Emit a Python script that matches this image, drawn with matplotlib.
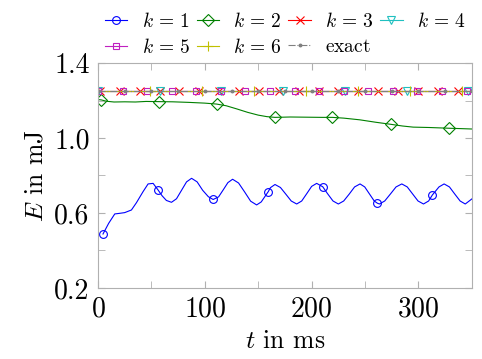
import numpy as np
import matplotlib
matplotlib.use('Agg')
import matplotlib.pyplot as plt
from matplotlib.ticker import MultipleLocator, FixedLocator, FormatStrFormatter

plt.rcParams['font.family'] = 'cmr10'
plt.rcParams['mathtext.fontset'] = 'cm'
plt.rcParams['axes.formatter.use_mathtext'] = True

# k = 1 (oscillating)
t1 = [4.7, 10, 15.7, 20, 25, 31.3, 36, 42.2, 46.9, 51.6, 56.2, 60, 64, 68.8,
      73.5, 78.2, 82.9, 87.6, 92.8, 98, 103.3, 107.8, 112.9, 117.3, 121.6, 126,
      131.6, 137.3, 142.9, 148.5, 152.8, 159.4, 161.4, 165.7, 170.8, 175.9, 180.9, 186,
      190.7, 195.4, 200, 204.7, 210.4, 214.9, 220, 225, 230, 235.2, 240.2, 245.3,
      249.7, 254.2, 258.6, 261.6, 263.5, 268.4, 273.7, 279, 284.4, 289.5, 294.6, 299.6, 304.7,
      309.5, 313, 319.2, 324, 329, 334, 339, 343.8, 350]
E1 = [0.488, 0.545, 0.595, 0.598, 0.602, 0.616, 0.655, 0.714, 0.755, 0.758, 0.723, 0.692, 0.667, 0.657,
      0.676, 0.721, 0.766, 0.785, 0.766, 0.721, 0.687, 0.672, 0.686, 0.724, 0.762, 0.780,
      0.760, 0.712, 0.663, 0.643, 0.659, 0.714, 0.735, 0.752, 0.736, 0.700, 0.664, 0.648,
      0.664, 0.703, 0.742, 0.758, 0.740, 0.703, 0.664, 0.648, 0.664, 0.701, 0.739, 0.755,
      0.739, 0.701, 0.664, 0.652, 0.648, 0.664, 0.701, 0.739, 0.755, 0.739, 0.701, 0.664, 0.648,
      0.664, 0.696, 0.739, 0.755, 0.739, 0.701, 0.664, 0.648, 0.675]
t1_marks = [4.7, 56.2, 107.8, 159.4, 210.4, 261.6, 313]

# k = 2 (slowly decaying)
t2 = [0, 3.2, 8, 15, 25, 35, 45, 56.9, 70, 85, 100, 111, 120, 130, 140, 150, 158, 165.7,
      180, 195, 210, 219.4, 230, 245, 260, 274.1, 285, 295, 310, 329, 340, 350]
E2 = [1.205, 1.203, 1.196, 1.192, 1.193, 1.192, 1.195, 1.194, 1.193, 1.190, 1.186, 1.181, 1.172,
      1.155, 1.137, 1.122, 1.114, 1.110, 1.112, 1.111, 1.110, 1.110, 1.106, 1.097, 1.084, 1.073,
      1.064, 1.058, 1.056, 1.052, 1.050, 1.048]
t2_marks = [3.2, 56.9, 111, 165.7, 219.4, 274.1, 329]

# k = 3..6 and exact: flat
E_flat = 1.253
t3 = [0, 1.9, 20.5, 39.1, 57.7, 76.3, 94.9, 113.5, 132.1, 150.7, 169.3, 187.9, 206.5, 225.1,
      243.7, 262.3, 280.9, 299.5, 318.1, 336.7, 350]
t4 = [0, 57.8, 115.6, 173.4, 231.2, 289, 346.8, 350]
t5 = [0, 23, 46, 69, 92, 115, 138, 161, 184, 207, 230, 253, 276, 299, 322, 345, 350]
t6 = [0, 48.7, 97.4, 146.1, 194.8, 243.5, 292.2, 340.9, 350]
t_ex = [0, 25, 50, 75, 100, 125, 150, 175, 200, 225, 250, 275, 300, 325, 350]

y_ticks = [0.2, 0.6, 1.0, 1.4]

W, H = 482, 359
fig = plt.figure(figsize=(W / 100, H / 100), dpi=100)
ax = fig.add_axes([0.2033, 0.1978, 0.7757, 0.6267])

ms = 5.6
lw = 0.8
h1, = ax.plot(t1, E1, color='#0000ff', lw=lw, marker='o', mfc='none', ms=ms, mew=lw,
              markevery=list(np.flatnonzero(np.isin(t1, t1_marks))), label=r'$k\,=\,1$')
h2, = ax.plot(t2, E2, color='#008000', lw=lw, marker='D', mfc='none', ms=6.3, mew=lw,
              markevery=list(np.flatnonzero(np.isin(t2, t2_marks))), label=r'$k\,=\,2$')
h3, = ax.plot(t3, [E_flat] * len(t3), color='#ff0000', lw=lw, marker='x', ms=ms, mew=lw,
              markevery=list(range(1, len(t3) - 1)), label=r'$k\,=\,3$')
h4, = ax.plot(t4, [E_flat] * len(t4), color='#20c0c0', lw=lw, marker='v', mfc='none', ms=ms, mew=lw,
              markevery=list(range(0, len(t4) - 1)), label=r'$k\,=\,4$')
h5, = ax.plot(t5, [E_flat] * len(t5), color='#c020c0', lw=lw, marker='s', mfc='none', ms=5.0, mew=lw,
              markevery=list(range(0, len(t5) - 1)), label=r'$k\,=\,5$')
h6, = ax.plot(t6, [E_flat] * len(t6), color='#c0c000', lw=lw, marker='+', ms=ms * 1.2, mew=lw,
              markevery=list(range(0, len(t6) - 1)), label=r'$k\,=\,6$')
h7, = ax.plot(t_ex, [E_flat] * len(t_ex), color='#808080', lw=lw, ls='-.', marker='o', ms=1.8,
              label=r'$\mathrm{exact}$')

ax.set_xlim(0, 350)
ax.set_ylim(0.2, 1.4)
ax.xaxis.set_major_locator(MultipleLocator(100))
ax.xaxis.set_minor_locator(MultipleLocator(50))
ax.yaxis.set_major_locator(FixedLocator(y_ticks))
ax.yaxis.set_minor_locator(MultipleLocator(0.2))
ax.yaxis.set_major_formatter(FormatStrFormatter('%.1f'))
ax.tick_params(which='both', direction='in', top=True, right=True, color='#b0b0b0',
               labelsize=20, pad=6)
ax.tick_params(which='both', length=5)
for s in ax.spines.values():
    s.set_color('#b0b0b0')
    s.set_linewidth(0.8)

ax.set_xlabel(r'$t$ in ms', fontsize=18.5, labelpad=5)
ax.set_ylabel(r'$E$ in mJ', fontsize=18.5, labelpad=5)

# row-wise order for a 4-column legend
handles = [h1, h5, h2, h6, h3, h7, h4]
leg_fs = 14
# target legend box in pixels (from the reference): left 105, right 466, rows centred at 23 and 46
x_left, x_right, y_mid = 105, 466, H - 34.5


def make_legend(cs, x0):
    return fig.legend(handles=handles, loc='center left',
                      bbox_to_anchor=(x0 / W, y_mid / H), bbox_transform=fig.transFigure,
                      ncol=4, frameon=False, fontsize=leg_fs, handlelength=1.15,
                      handletextpad=0.75, columnspacing=cs, labelspacing=0.35,
                      borderpad=0, borderaxespad=0, numpoints=1)


cs = 0.5
leg = make_legend(cs, x_left)
fig.canvas.draw()
bb = leg.get_window_extent(fig.canvas.get_renderer())
fs_px = leg_fs * 100 / 72
cs = max(0.1, cs + ((x_right - x_left) - bb.width) / 3 / fs_px)
x0 = x_left - (bb.x0 - x_left)
leg.remove()
leg = make_legend(cs, x0)

fig.savefig('out.png', dpi=100)
